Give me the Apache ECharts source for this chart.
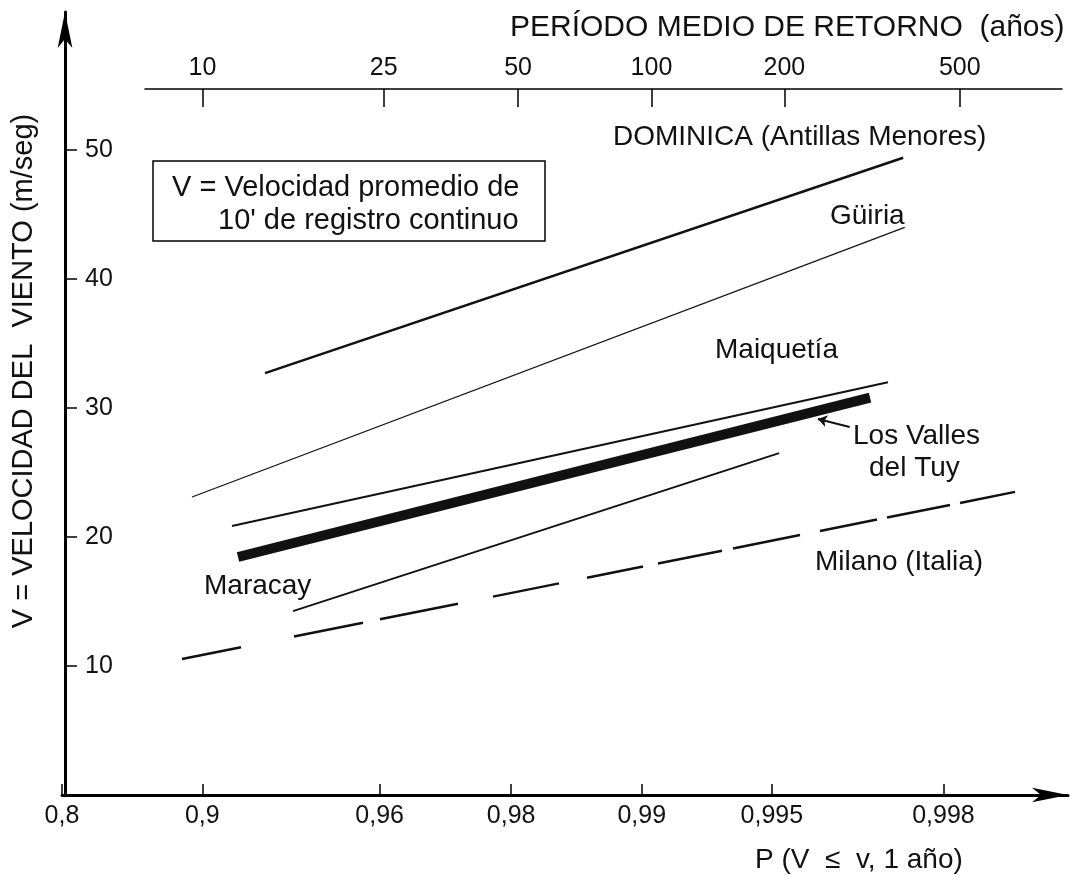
<!DOCTYPE html>
<html>
<head>
<meta charset="utf-8">
<script src="https://cdn.jsdelivr.net/npm/echarts@6/dist/echarts.min.js"></script>
<style>
html,body{margin:0;padding:0;background:#fff;}
#chart{width:1070px;height:875px;}
</style>
</head>
<body>
<div id="chart"></div>
<script>
// ---- data ----
// bottom axis: probability of non-exceedance (Gumbel paper)
const bottomTicksP = [0.8, 0.9, 0.96, 0.98, 0.99, 0.995, 0.998];
// top axis: mean return period (years)
const topTicksT = [10, 25, 50, 100, 200, 500];
// y axis ticks (m/seg)
const yTicks = [10, 20, 30, 40, 50];

// each line: [P start, P end], [V start, V end]
const dominicaP  = [0.92743, 0.99752];  const dominicaV  = [32.7, 49.4];
const guiriaP    = [0.89465, 0.99754];  const guiriaV    = [23.1, 44.0];
const maiquetiaP = [0.91401, 0.99731];  const maiquetiaV = [20.85, 32.0];
const vallesP    = [0.91662, 0.99704];  const vallesV    = [18.45, 30.8];
const maracayP   = [0.93718, 0.99519];  const maracayV   = [14.26, 26.5];
const milanoP    = [0.88916, 0.998636]; const milanoV    = [10.54, 23.5];
// leader arrow for "Los Valles del Tuy"
const vallesLeaderP = [0.99670, 0.99609]; const vallesLeaderV = [28.53, 29.15];

// ---- scale helpers ----
const gumbel = p => -Math.log(-Math.log(p));
const pairs = (P, V) => P.map((p, i) => [gumbel(p), V[i]]);

const FONT = '"Liberation Sans", Arial, sans-serif';
const INK = '#111';

const U_MIN = gumbel(0.8);
const U_MAX = U_MIN + (1068 - 62) / 187;
const TOP_U_MIN = 1.9496, TOP_U_MAX = 6.7488;

const bottomTicksU = bottomTicksP.map(gumbel);
const topTicksU = topTicksT.map(t => gumbel(1 - 1 / t));

function lineSeries(name, P, V, width, type) {
  return {
    name, type: 'line', xAxisIndex: 0, yAxisIndex: 0,
    data: pairs(P, V), symbol: 'none', silent: true,
    lineStyle: { color: INK, width, type: type || 'solid', cap: 'butt' }
  };
}

const milanoDash = [59,53,69,17,78,35,66,28,56,15,64,11,67,20,57,10,63,10,55].map(d => d * 1.02);

const txt = (text, x, y, size, extra) => Object.assign({
  type: 'text', x, y, silent: true,
  style: { text, font: size + 'px ' + FONT, fill: INK,
           align: 'left', verticalAlign: 'middle', textAlign: 'left', textVerticalAlign: 'middle' }
}, extra || {});

const chart = echarts.init(document.getElementById('chart'), null, { renderer: 'canvas' });
chart.setOption({
  animation: false,
  backgroundColor: '#fff',
  grid: [
    { left: 62, right: 2, top: 12, bottom: 80 },
    { left: 145, right: 8, top: 89, height: 1 }
  ],
  xAxis: [
    {
      type: 'value', gridIndex: 0, min: U_MIN, max: U_MAX, position: 'bottom',
      axisLine: { show: true, onZero: false, symbol: ['none', 'arrow'], symbolSize: [11, 36],
                  lineStyle: { color: '#000', width: 3 } },
      axisTick: { show: true, inside: true, length: 11, customValues: bottomTicksU,
                  lineStyle: { color: '#000', width: 1.5 } },
      axisLabel: { show: true, customValues: bottomTicksU, margin: 9, fontSize: 25, fontFamily: FONT, color: INK,
                   formatter: v => String(Math.round(Math.exp(-Math.exp(-v)) * 1000) / 1000).replace('.', ',') },
      splitLine: { show: false }
    },
    {
      type: 'value', gridIndex: 1, min: TOP_U_MIN, max: TOP_U_MAX, position: 'top',
      axisLine: { show: true, onZero: false, lineStyle: { color: '#000', width: 1.5 } },
      axisTick: { show: true, inside: true, length: 18, customValues: topTicksU,
                  lineStyle: { color: '#000', width: 1.5 } },
      axisLabel: { show: true, customValues: topTicksU, margin: 8, fontSize: 25, fontFamily: FONT, color: INK,
                   formatter: v => String(Math.round(1 / (1 - Math.exp(-Math.exp(-v))))) },
      splitLine: { show: false }
    }
  ],
  yAxis: [
    {
      type: 'value', gridIndex: 0, min: 0, max: 60.7, offset: -3,
      axisLine: { show: true, onZero: false, symbol: ['none', 'arrow'], symbolSize: [11, 36],
                  lineStyle: { color: '#000', width: 3 } },
      axisTick: { show: true, inside: true, length: 12, customValues: yTicks,
                  lineStyle: { color: '#000', width: 1.5 } },
      axisLabel: { show: true, inside: true, customValues: yTicks, margin: 20, fontSize: 25, fontFamily: FONT, color: INK },
      splitLine: { show: false }
    },
    { type: 'value', gridIndex: 1, show: false, min: 0, max: 1 }
  ],
  series: [
    lineSeries('DOMINICA (Antillas Menores)', dominicaP, dominicaV, 2.5),
    lineSeries('Güiria', guiriaP, guiriaV, 1.2),
    lineSeries('Maiquetía', maiquetiaP, maiquetiaV, 2),
    Object.assign(lineSeries('Los Valles del Tuy', vallesP, vallesV, 10), {
      markLine: {
        silent: true, symbol: ['none', 'arrow'], symbolSize: 9,
        label: { show: false },
        lineStyle: { color: INK, width: 2, type: 'solid' },
        data: [[{ coord: [gumbel(vallesLeaderP[0]), vallesLeaderV[0]] },
                { coord: [gumbel(vallesLeaderP[1]), vallesLeaderV[1]] }]]
      }
    }),
    lineSeries('Maracay', maracayP, maracayV, 1.8),
    lineSeries('Milano (Italia)', milanoP, milanoV, 2.5, milanoDash)
  ],
  graphic: [
    { type: 'rect', silent: true, shape: { x: 153, y: 161, width: 392, height: 80 },
      style: { fill: '#fff', stroke: '#000', lineWidth: 1.5 } },
    txt('V = Velocidad promedio de', 172, 188, 29),
    txt("10' de registro continuo", 218, 221, 29),
    txt('PERÍODO MEDIO DE RETORNO  (años)', 510, 28, 30),
    txt('DOMINICA (Antillas Menores)', 613, 137, 28),
    txt('Güiria', 830, 216, 28),
    txt('Maiquetía', 715, 350, 28),
    txt('Los Valles', 853, 436, 28),
    txt('del Tuy', 869, 468, 28),
    txt('Maracay', 204, 586, 28),
    txt('Milano (Italia)', 815, 562, 28),
    txt('P (V  ≤  v, 1 año)', 755, 860, 28),
    txt('V = VELOCIDAD DEL  VIENTO (m/seg)', 24, 371, 29,
        { rotation: Math.PI / 2,
          style: { text: 'V = VELOCIDAD DEL  VIENTO (m/seg)', font: '29px ' + FONT, fill: INK,
                   align: 'center', verticalAlign: 'middle', textAlign: 'center', textVerticalAlign: 'middle' } })
  ]
});
</script>
</body>
</html>
